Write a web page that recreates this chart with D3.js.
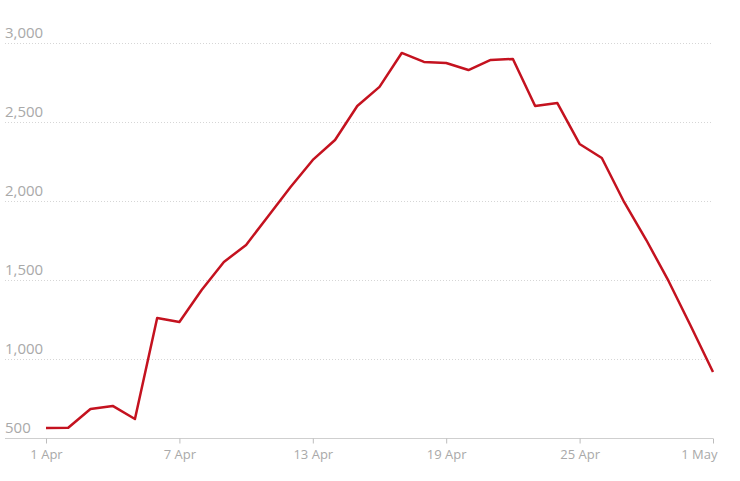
<!DOCTYPE html>
<html>
<head>
<meta charset="utf-8">
<script src="https://cdn.jsdelivr.net/npm/d3@7"></script>
<style>
  body { margin: 0; background: #fff; }
  text { font-family: "Open Sans", "Noto Sans", sans-serif; }
</style>
</head>
<body>
<script>
// daily values, 1 Apr .. 1 May
const startDate = "2020-04-01";
const values = [
  563, 565, 684, 703, 620, 1260, 1234, 1437, 1614, 1722,
  1905, 2089, 2260, 2386, 2601, 2722, 2937, 2880, 2873, 2829,
  2893, 2899, 2601, 2620, 2361, 2272, 1994, 1753, 1494, 1209,
  918
];
const yTicks = [500, 1000, 1500, 2000, 2500, 3000];
const xTickDates = ["2020-04-01", "2020-04-07", "2020-04-13", "2020-04-19", "2020-04-25", "2020-05-01"];

const width = 740, height = 481;
const margin = {top: 43, right: 27, bottom: 43, left: 46};

const parse = d3.utcParse("%Y-%m-%d");
const t0 = parse(startDate);
const data = values.map((v, i) => ({x: d3.utcDay.offset(t0, i), y: v}));

const svg = d3.select("body").append("svg")
  .attr("width", width)
  .attr("height", height);

const x = d3.scaleUtc()
  .domain(d3.extent(data, d => d.x))
  .range([margin.left, width - margin.right]);

const y = d3.scaleLinear()
  .domain([500, 3000])
  .range([height - margin.bottom, margin.top]);

// gridlines + labels
const grid = svg.append("g");
grid.selectAll("line")
  .data(yTicks.filter(d => d !== 500))
  .join("line")
  .attr("x1", 5)
  .attr("x2", x.range()[1])
  .attr("y1", d => Math.round(y(d)) + 0.5)
  .attr("y2", d => Math.round(y(d)) + 0.5)
  .attr("stroke", "#d6d6d6")
  .attr("stroke-dasharray", "1,2");

grid.selectAll("text")
  .data(yTicks)
  .join("text")
  .attr("x", 5)
  .attr("y", d => y(d) - 5)
  .attr("fill", "#a9a9a9")
  .style("font-size", "15px")
  .text(d => d3.format(",")(d));

// x axis
const xAxis = svg.append("g")
  .attr("transform", `translate(0,${Math.round(y(500)) + 0.5})`)
  .call(d3.axisBottom(x)
    .tickValues(xTickDates.map(parse))
    .tickSize(5)
    .tickSizeOuter(0)
    .tickFormat(d3.utcFormat("%-d %b")));

xAxis.select(".domain")
  .attr("d", `M5,0H${x.range()[1]}`)
  .attr("stroke", "#cfcfcf");
xAxis.selectAll(".tick line").attr("stroke", "#bdbdbd");
xAxis.selectAll(".tick text")
  .attr("fill", "#a9a9a9")
  .attr("dy", "0.95em")
  .style("font-size", "13px")
  .style("font-family", "\"Open Sans\", \"Noto Sans\", sans-serif");
xAxis.selectAll(".tick:last-of-type text").attr("text-anchor", "end").attr("dx", "0.3em");

// line
const line = d3.line()
  .x(d => x(d.x))
  .y(d => y(d.y));

svg.append("path")
  .datum(data)
  .attr("fill", "none")
  .attr("stroke", "#c4121f")
  .attr("stroke-width", 2.5)
  .attr("stroke-linejoin", "round")
  .attr("d", line);
</script>
</body>
</html>
